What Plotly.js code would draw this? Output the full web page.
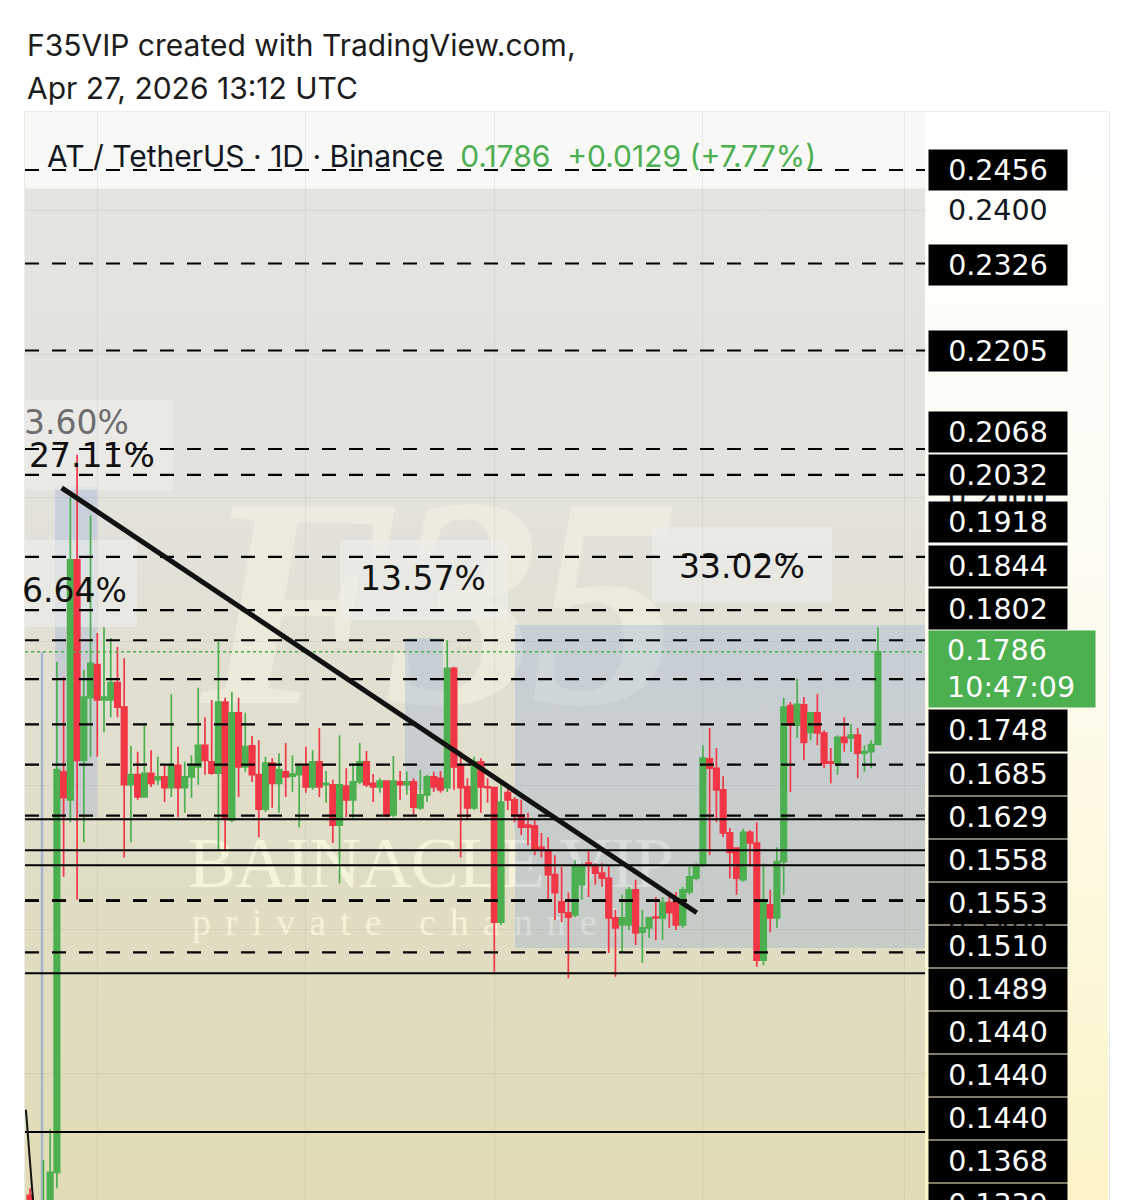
<!DOCTYPE html>
<html>
<head>
<meta charset="utf-8">
<script src="https://cdn.plot.ly/plotly-3.0.1.min.js"></script>
<style>
html,body{margin:0;padding:0;background:#ffffff;}
body{width:1133px;height:1200px;overflow:hidden;position:relative;}
#pane{position:absolute;left:25px;top:112px;width:900px;height:1088px;
 background:linear-gradient(180deg,#f8f8f6 0px,#f8f8f6 76px,#e4e4e1 77px,#e3e2dc 35%,#e0ddc6 70%,#e1dcb5 100%);}
#scale{position:absolute;left:925px;top:112px;width:183px;height:1088px;
 background:linear-gradient(180deg,#fefefd 0%,#fdfcf4 40%,#fdf8dc 75%,#fcf3c6 100%);}
#frame{position:absolute;left:24px;top:111px;width:1084px;height:1100px;border:1px solid #ebebe8;}
.wm{position:absolute;color:rgba(255,252,228,0.7);white-space:nowrap;font-family:'Liberation Serif','DejaVu Serif',serif;}
#chart{position:absolute;left:0;top:0;}
</style>
</head>
<body>
<div id="pane"></div>
<div id="scale"></div>
<div id="frame"></div>
<div class="wm" style="left:200px;top:430px;font-size:300px;font-style:italic;font-weight:bold;color:rgba(255,253,232,0.35);letter-spacing:-10px;">F35</div>
<div class="wm" style="left:188px;top:822px;font-size:72px;letter-spacing:-1px;">BAINACLE VIP</div>
<div class="wm" style="left:192px;top:900px;font-size:38px;letter-spacing:14px;">private channel</div>
<div id="chart"></div>
<script>
// ---- data (daily candles, AT / TetherUS, Binance) ----
const firstDay = [2025, 11, 22]; // 2025-12-22
const open = [
 .1030,.0990,.0985,.1010,.1062,.1619,.1580,.1914,.1635,.1722,
 .1768,.1719,.1719,.1743,.1709,.1601,.1615,.1584,.1617,.1608,
 .1612,.1597,.1628,.1597,.1612,.1626,.1656,.1633,.1617,.1716,
 .1552,.1701,.1626,.1655,.1615,.1567,.1631,.1603,.1619,.1613,
 .1615,.1626,.1598,.1633,.1601,.1601,.1545,.1599,.1580,.1605,
 .1633,.1603,.1598,.1606,.1559,.1605,.1601,.1605,.1569,.1587,
 .1612,.1610,.1597,.1763,.1628,.1598,.1569,.1633,.1598,.1597,
 .1410,.1590,.1580,.1559,.1545,.1544,.1514,.1510,.1476,.1438,
 .1423,.1420,.1462,.1492,.1487,.1478,.1471,.1416,.1406,.1406,
 .1455,.1396,.1402,.1417,.1416,.1437,.1437,.1406,.1452,.1471,
 .1489,.1637,.1624,.1594,.1534,.1513,.1469,.1535,.1520,.1357,
 .1434,.1416,.1494,.1711,.1684,.1712,.1674,.1701,.1673,.1633,
 .1631,.1667,.1666,.1670,.1645,.1647,.1657];
const high = [
 .1040,.1015,.1079,.1122,.1772,.1751,.2001,.2060,.1761,.1976,
 .1812,.1820,.1805,.1793,.1777,.1655,.1647,.1687,.1649,.1640,
 .1628,.1727,.1654,.1633,.1642,.1736,.1695,.1719,.1800,.1722,
 .1730,.1722,.1701,.1669,.1663,.1640,.1638,.1645,.1659,.1642,
 .1631,.1654,.1649,.1680,.1620,.1608,.1670,.1624,.1631,.1659,
 .1648,.1616,.1610,.1606,.1641,.1620,.1619,.1610,.1622,.1615,
 .1619,.1620,.1802,.1765,.1647,.1610,.1640,.1638,.1610,.1598,
 .1608,.1598,.1584,.1580,.1562,.1552,.1534,.1528,.1503,.1487,
 .1451,.1496,.1492,.1510,.1492,.1492,.1489,.1427,.1448,.1459,
 .1469,.1427,.1417,.1445,.1445,.1448,.1452,.1459,.1487,.1492,
 .1656,.1680,.1652,.1613,.1541,.1514,.1540,.1538,.1549,.1492,
 .1455,.1514,.1722,.1716,.1748,.1723,.1702,.1727,.1677,.1652,
 .1670,.1695,.1686,.1680,.1656,.1663,.1820];
const low = [
 .0980,.0970,.0960,.0995,.1040,.1473,.1549,.1441,.1521,.1640,
 .1640,.1674,.1695,.1695,.1500,.1521,.1580,.1583,.1598,.1601,
 .1577,.1584,.1556,.1562,.1583,.1601,.1615,.1615,.1510,.1510,
 .1549,.1584,.1619,.1605,.1528,.1563,.1569,.1562,.1584,.1591,
 .1542,.1590,.1594,.1584,.1576,.1520,.1464,.1556,.1555,.1602,
 .1598,.1577,.1590,.1556,.1556,.1580,.1587,.1559,.1566,.1577,
 .1591,.1590,.1591,.1594,.1500,.1552,.1566,.1562,.1576,.1341,
 .1406,.1566,.1549,.1531,.1517,.1503,.1500,.1441,.1413,.1410,
 .1332,.1417,.1441,.1445,.1462,.1459,.1367,.1334,.1367,.1399,
 .1378,.1353,.1388,.1385,.1385,.1402,.1399,.1402,.1448,.1468,
 .1487,.1503,.1549,.1528,.1471,.1448,.1466,.1487,.1348,.1350,
 .1396,.1402,.1448,.1591,.1666,.1635,.1663,.1656,.1624,.1603,
 .1615,.1647,.1647,.1610,.1619,.1624,.1656];
const close = [
 .1010,.1005,.1010,.1062,.1622,.1583,.1914,.1635,.1723,.1770,
 .1719,.1723,.1743,.1709,.1601,.1615,.1584,.1617,.1603,.1612,
 .1597,.1628,.1597,.1612,.1626,.1656,.1635,.1617,.1716,.1555,
 .1701,.1626,.1654,.1615,.1567,.1631,.1603,.1622,.1612,.1616,
 .1626,.1598,.1633,.1598,.1603,.1545,.1601,.1580,.1605,.1633,
 .1601,.1598,.1606,.1559,.1606,.1601,.1605,.1570,.1587,.1612,
 .1598,.1594,.1763,.1626,.1597,.1569,.1633,.1598,.1597,.1410,
 .1577,.1580,.1559,.1542,.1542,.1510,.1510,.1476,.1451,.1424,
 .1417,.1489,.1489,.1489,.1478,.1471,.1416,.1402,.1416,.1455,
 .1395,.1402,.1416,.1416,.1437,.1423,.1406,.1455,.1473,.1489,
 .1638,.1624,.1594,.1534,.1507,.1471,.1535,.1520,.1357,.1437,
 .1416,.1494,.1709,.1684,.1713,.1660,.1701,.1673,.1631,.1631,
 .1667,.1660,.1670,.1645,.1647,.1657,.1786];

// horizontal levels drawn on the chart (price, style)
const levels    = [0.2456,0.2326,0.2205,0.2068,0.2032,0.1918,0.1844,0.1802,0.1748,0.1685,0.1629,0.1558,0.1553,0.1510,0.1489,0.1440,0.1440,0.1440,0.1368,0.1339,0.1118];
const levelDash = [true,true,true,true,true,true,true,true,true,true,true,true,false,false,false,true,true,true,true,false,false];
const monthStarts = ['2026-01-01','2026-02-01','2026-03-01','2026-04-01','2026-05-01'];
const trendFrom = ['2025-12-26 17:00', 0.2014];
const trendTo   = ['2026-03-31 02:00', 0.1423];
const stubFrom  = ['2025-12-21 09:30', 0.1149];
const stubTo    = ['2025-12-23 01:30', 0.0950];
const pctLabels = ['3.60%','27.11%','6.64%','13.57%','33.02%'];
const headerLines = ['F35VIP created with TradingView.com,','Apr 27, 2026 13:12 UTC'];
const symbolText = 'AT / TetherUS · 1D · Binance';
const changeText = '+0.0129 (+7.77%)';
const countdown = '10:47:09';

// ---- geometry helpers (pixel -> paper) ----
const L = 25, R = 925, T = 112, B = 1200;
const px = x => (x - L) / (R - L);
const py = y => (B - y) / (B - T);

const days = open.map((_, i) => new Date(Date.UTC(firstDay[0], firstDay[1], firstDay[2] + i)).toISOString().slice(0, 10));
const last = close[close.length - 1];

const GREEN = '#4caf50', RED = '#f23645';

const trace = {
  type: 'candlestick', x: days, open: open, high: high, low: low, close: close,
  increasing: {line: {color: GREEN, width: 1.7}, fillcolor: GREEN},
  decreasing: {line: {color: RED, width: 1.7}, fillcolor: RED},
  whiskerwidth: 0, hoverinfo: 'skip'
};

const shapes = [];
const blueRects = [[55,97,487,817],[405,443,638,790],[515,925,625,948]];
blueRects.forEach(r => shapes.push({type:'rect', layer:'below', xref:'paper', yref:'paper',
  x0:px(r[0]), x1:px(r[1]), y0:py(r[3]), y1:py(r[2]), line:{width:0}, fillcolor:'rgba(100,140,220,0.2)'}));
shapes.push({type:'line', layer:'below', xref:'paper', yref:'paper', x0:px(42), x1:px(42), y0:py(1200), y1:py(652),
  line:{color:'rgba(120,150,210,0.55)', width:2.5}});
const grayBoxes = [[25,173,400,490],[25,137,540,627],[340,508,540,620],[652,832,527,603]];
grayBoxes.forEach(r => shapes.push({type:'rect', layer:'below', xref:'paper', yref:'paper',
  x0:px(r[0]), x1:px(r[1]), y0:py(r[3]), y1:py(r[2]), line:{width:0}, fillcolor:'rgba(238,238,236,0.6)'}));
levels.forEach((v, i) => shapes.push({type:'line', xref:'paper', yref:'y', x0:0, x1:1, y0:v, y1:v,
  line:{color:'#000', width: levelDash[i] ? 2.2 : 2, dash: levelDash[i] ? '14px,13px' : 'solid'}}));
shapes.push({type:'line', xref:'paper', yref:'y', x0:0, x1:1, y0:last, y1:last, line:{color:GREEN, width:1.6, dash:'dot'}});
shapes.push({type:'line', xref:'x', yref:'y', x0:trendFrom[0], y0:trendFrom[1], x1:trendTo[0], y1:trendTo[1], line:{color:'#111', width:5}});
shapes.push({type:'line', xref:'x', yref:'y', x0:stubFrom[0], y0:stubFrom[1], x1:stubTo[0], y1:stubTo[1], line:{color:'#111', width:2}});

const annotations = [];
const F = 'DejaVu Sans, sans-serif';
const FH = 'Inter, Liberation Sans, sans-serif';
annotations.push({xref:'paper', yref:'paper', x:0, y:py(45), xanchor:'left', yanchor:'middle', showarrow:false,
  text:headerLines[0], font:{family:FH, size:30, color:'#1c1c1c'}});
annotations.push({xref:'paper', yref:'paper', x:0, y:py(88), xanchor:'left', yanchor:'middle', showarrow:false,
  text:headerLines[1], font:{family:FH, size:30, color:'#1c1c1c'}});
annotations.push({xref:'paper', yref:'paper', x:px(45), y:py(156), xanchor:'left', yanchor:'middle', showarrow:false,
  text: symbolText + '  <span style="color:' + GREEN + '">' + last.toFixed(4) + '  ' + changeText + '</span>',
  font:{family:FH, size:30, color:'#131722'}});
const pctPos = [[22,422,'left','#6d6d6d'],[27,455,'left','#111'],[20,590,'left','#111'],[423,578,'center','#111'],[742,566,'center','#111']];
pctLabels.forEach((t, i) => annotations.push({xref:'paper', yref:'paper', x:px(pctPos[i][0]), y:py(pctPos[i][1]),
  xanchor:pctPos[i][2], yanchor:'middle', showarrow:false, text:t, font:{family:F, size:33, color:pctPos[i][3]}}));
const labelPx = [170,265,351,432,475,522,566,609,731,774,817,860,903,946,989,1032,1075,1118,1161,1204,1247];
levels.forEach((v, i) => annotations.push({xref:'paper', yref:'paper', x:px(928), y:py(labelPx[i]), xanchor:'left', yanchor:'middle',
  showarrow:false, text:v.toFixed(4), bgcolor:'#000', width:138, height: i < 8 ? 40 : 41, borderpad:0, align:'center',
  font:{family:F, size:28.5, color:'#fff'}}));
annotations.push({xref:'paper', yref:'paper', x:px(928), y:py(669), xanchor:'left', yanchor:'middle', showarrow:false,
  text:'\u00a0\u00a0' + last.toFixed(4) + '<br>\u00a0\u00a0' + countdown, bgcolor:GREEN, width:166, height:76, borderpad:0, align:'left',
  font:{family:F, size:28.5, color:'#fff'}});

const layout = {
  width:1133, height:1200, margin:{l:L, r:1133-R, t:T, b:0},
  paper_bgcolor:'rgba(0,0,0,0)', plot_bgcolor:'rgba(0,0,0,0)', showlegend:false,
  boxgap:0.1, boxgroupgap:0.1,
  xaxis:{type:'date', range:['2025-12-21 06:14','2026-05-04 00:00'], rangeslider:{visible:false},
    tickvals:monthStarts, showticklabels:false, ticks:'', showgrid:true, gridcolor:'rgba(110,110,100,0.10)', zeroline:false, showline:false},
  yaxis:{side:'right', range:[0.10235,0.25367], tickmode:'linear', tick0:0, dtick:0.02, tickformat:'.4f', ticks:'',
    ticklabelstandoff:22, tickfont:{family:F, size:28.5, color:'#131722'}, showgrid:true, gridcolor:'rgba(110,110,100,0.10)',
    zeroline:false, showline:false},
  shapes:shapes, annotations:annotations
};

Plotly.newPlot('chart', [trace], layout, {staticPlot:true, displayModeBar:false});
</script>
</body>
</html>
